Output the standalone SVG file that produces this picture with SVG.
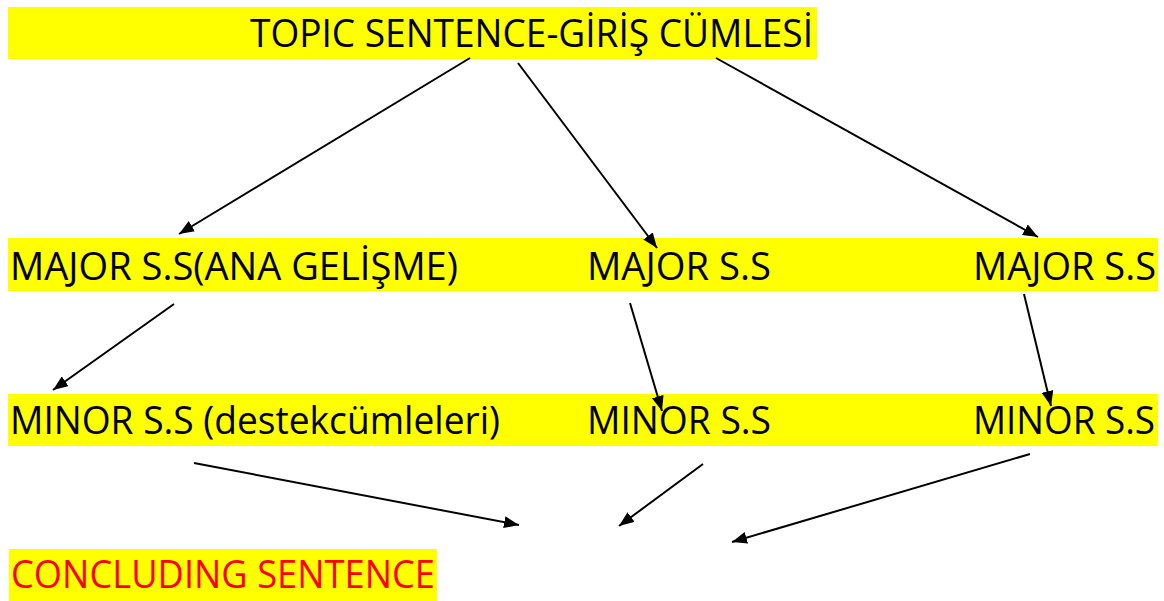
<svg xmlns="http://www.w3.org/2000/svg" width="1164" height="601" viewBox="0 0 1164 601">
  <style>
    .band { fill: #ffff00; }
    .lbl { font-family: "Open Sans", "Noto Sans", "Liberation Sans", sans-serif; font-size: 39px; fill: #000000; }
    .red { fill: #ff0000; }
    .conn { stroke: #000000; stroke-width: 2; fill: none; marker-end: url(#arr); }
  </style>
  <defs>
    <marker id="arr" markerUnits="userSpaceOnUse" markerWidth="15" markerHeight="12" refX="15" refY="6" orient="auto">
      <path d="M0,0 L15,6 L0,12 z" fill="#000000"/>
    </marker>
  </defs>
  <rect width="1164" height="601" fill="#ffffff"/>

  <g id="topic">
    <rect class="band" x="8" y="7" width="809" height="52"/>
    <text class="lbl" x="250" y="47" textLength="563" lengthAdjust="spacingAndGlyphs">TOPIC SENTENCE-GİRİŞ CÜMLESİ</text>
  </g>

  <g id="major-row">
    <rect class="band" x="8" y="238" width="1150" height="53"/>
  </g>
  <g id="major1">
    <text class="lbl" x="10" y="280" textLength="448" lengthAdjust="spacingAndGlyphs">MAJOR S.S(ANA GELİŞME)</text>
  </g>
  <g id="major2">
    <text class="lbl" x="587" y="280" textLength="184" lengthAdjust="spacingAndGlyphs">MAJOR S.S</text>
  </g>
  <g id="major3">
    <text class="lbl" x="973" y="280" textLength="183" lengthAdjust="spacingAndGlyphs">MAJOR S.S</text>
  </g>

  <g id="minor-row">
    <rect class="band" x="8" y="394" width="1150" height="52"/>
  </g>
  <g id="minor1">
    <text class="lbl" x="10" y="434" textLength="490" lengthAdjust="spacingAndGlyphs">MINOR S.S (destekcümleleri)</text>
  </g>
  <g id="minor2">
    <text class="lbl" x="587" y="434" textLength="184" lengthAdjust="spacingAndGlyphs">MINOR S.S</text>
  </g>
  <g id="minor3">
    <text class="lbl" x="973" y="434" textLength="182" lengthAdjust="spacingAndGlyphs">MINOR S.S</text>
  </g>

  <g id="concluding">
    <rect class="band" x="9" y="549" width="428" height="52"/>
    <text class="lbl red" x="11" y="588" textLength="424" lengthAdjust="spacingAndGlyphs">CONCLUDING SENTENCE</text>
  </g>

  <g id="connectors">
    <line class="conn" x1="470" y1="58" x2="179" y2="234"/>
    <line class="conn" x1="518" y1="63" x2="657" y2="248"/>
    <line class="conn" x1="716" y1="58" x2="1038" y2="237"/>
    <line class="conn" x1="174" y1="304" x2="53" y2="390"/>
    <line class="conn" x1="630" y1="303" x2="662" y2="411"/>
    <line class="conn" x1="1024" y1="294" x2="1051" y2="406"/>
    <line class="conn" x1="194" y1="463" x2="519" y2="525"/>
    <line class="conn" x1="703" y1="464" x2="619" y2="526"/>
    <line class="conn" x1="1030" y1="454" x2="732" y2="542"/>
  </g>
</svg>
